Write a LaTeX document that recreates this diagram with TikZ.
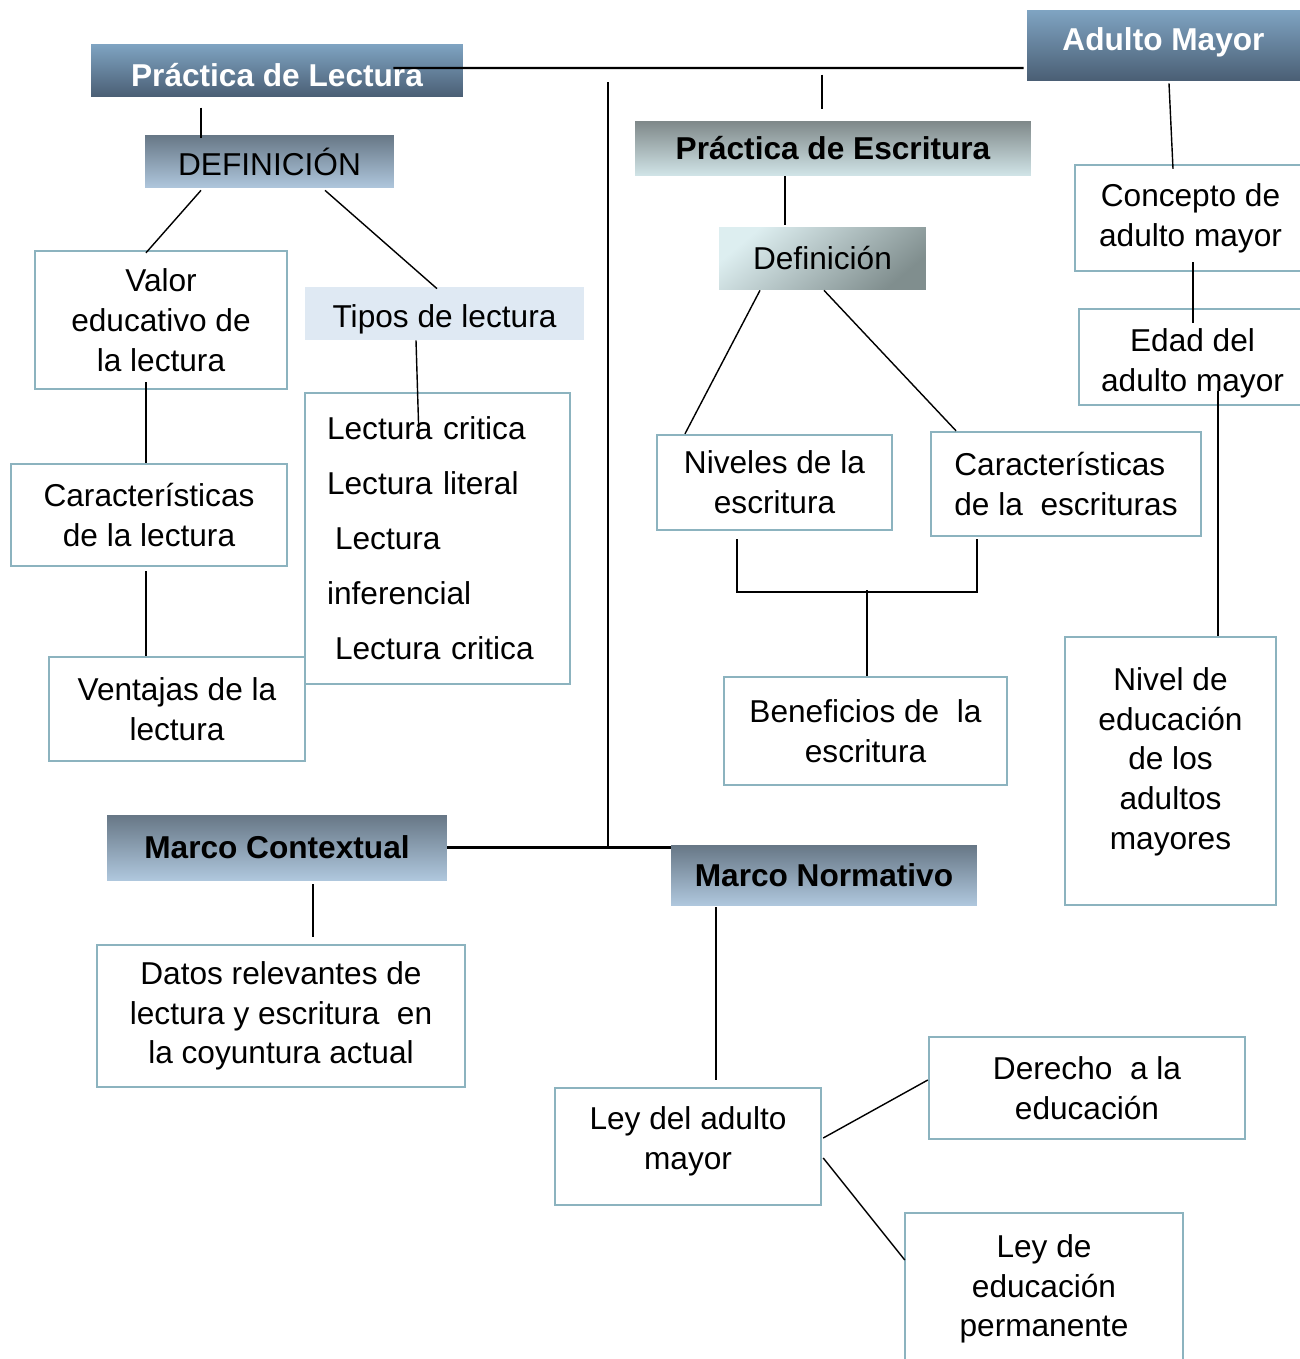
\documentclass[tikz,border=0pt]{standalone}
\usepackage{fontspec}
\setmainfont{Liberation Sans}
\usepackage{tikz}
\usetikzlibrary{positioning}

\definecolor{headtop}{HTML}{7FA4C2}
\definecolor{headbot}{HTML}{4A5E74}
\definecolor{subtop}{HTML}{677786}
\definecolor{subbot}{HTML}{AFC7DD}
\definecolor{escrtop}{HTML}{7F8889}
\definecolor{escrbot}{HTML}{D1E5E8}
\definecolor{defelight}{HTML}{DDEEF0}
\definecolor{defedark}{HTML}{808E8E}
\definecolor{tiposfill}{HTML}{DFE9F3}
\definecolor{boxline}{HTML}{8CB3BF}

\begin{document}
\begin{tikzpicture}[x=0.02cm, y=-0.02cm,
  font=\fontsize{18}{22.6}\selectfont,
  % common options for the white boxes:
  block/.style = {draw=boxline, line width=1.4pt, fill=white, align=center,
              inner sep=0},
  % common options for the shaded titles:
  head/.style = {top color=headtop, bottom color=headbot, text=white,
              font=\fontsize{18}{22.6}\selectfont\bfseries, inner sep=0},
  subhead/.style = {top color=subtop, bottom color=subbot, inner sep=0},
  % connectors
  link/.style = {line width=1.2pt},
  thinlink/.style = {line width=0.8pt}
	]
  \useasboundingbox (0,0) rectangle (1300,1359);

  % titles
  \node[head, minimum width=7.44cm, minimum height=1.06cm, text height=0.63cm] (lect) at (277,70.5) {Práctica de Lectura};
  \node[head, minimum width=5.46cm, minimum height=1.42cm, text depth=0.25cm] (adulto) at (1163.5,45.5) {Adulto Mayor};
  \node[subhead, minimum width=4.98cm, minimum height=1.06cm] (defl) at (269.5,161.5) {DEFINICIÓN};
  \node[top color=escrtop, bottom color=escrbot, inner sep=0, font=\fontsize{18}{22.6}\selectfont\bfseries,
    minimum width=7.92cm, minimum height=1.1cm] (escr) at (833,148.5) {Práctica de Escritura};
  \node[top color=defelight, bottom color=defedark, shading angle=40, inner sep=0,
    minimum width=4.14cm, minimum height=1.26cm] (defe) at (822.5,258.5) {Definición};
  \node[fill=tiposfill, inner sep=0, minimum width=5.58cm, minimum height=1.06cm, text height=0.69cm] (tipos) at (444.5,313.5) {Tipos de lectura};
  \node[subhead, font=\fontsize{18}{22.6}\selectfont\bfseries,
    minimum width=6.8cm, minimum height=1.3cm] (mcont) at (277,847.5) {Marco Contextual};
  \node[subhead, font=\fontsize{18}{22.6}\selectfont\bfseries,
    minimum width=6.12cm, minimum height=1.2cm] (mnorm) at (824,875) {Marco Normativo};

  % lectura
  \node[block, minimum width=5.04cm, minimum height=2.76cm] (valor) at (161,320) {Valor\\educativo de\\la lectura};
  \node[block, minimum width=5.52cm, minimum height=2.04cm] (carl) at (149,515) {Características\\de la lectura};
  \node[block, minimum width=5.12cm, minimum height=2.08cm] (vent) at (177,709) {Ventajas de la\\lectura};
  \node[block, align=left, inner xsep=0.44cm, text width=4.42cm, minimum height=5.82cm,
    font=\fontsize{18}{31.3}\selectfont] (lista) at (437.5,538.5)
    {Lectura critica\\Lectura literal\\\hspace{0.16cm}Lectura\\inferencial\\\hspace{0.16cm}Lectura critica};

  % escritura
  \node[block, minimum width=4.7cm, minimum height=1.9cm] (niv) at (774.5,482.5) {Niveles de la\\escritura};
  \node[block, align=left, minimum width=5.4cm, minimum height=2.08cm] (care) at (1066,484)
    {Características\\de la\ \ escrituras};
  \node[block, minimum width=5.66cm, minimum height=2.16cm] (benef) at (865.5,731) {Beneficios de\ \ la\\escritura};

  % adulto mayor
  \node[block, minimum width=4.62cm, minimum height=2.12cm] (conc) at (1190.5,218) {Concepto de\\adulto mayor};
  \node[block, minimum width=4.54cm, minimum height=1.92cm, text height=1.5cm] (edad) at (1192.5,357) {Edad del\\adulto mayor};
  \node[block, minimum width=4.22cm, minimum height=5.36cm, text depth=0.5cm] (nivel) at (1170.5,771)
    {Nivel de\\educación\\de los\\adultos\\mayores};

  % marcos
  \node[block, minimum width=7.36cm, minimum height=2.84cm] (datos) at (281,1016)
    {Datos relevantes de\\lectura y escritura\ \ en\\la coyuntura actual};
  \node[block, minimum width=5.32cm, minimum height=2.34cm, text depth=0.35cm] (ley) at (688,1146.5) {Ley del adulto\\mayor};
  \node[block, minimum width=6.32cm, minimum height=2.04cm] (der) at (1087,1088) {Derecho\ \ a la\\educación};
  \node[block, minimum width=5.56cm, minimum height=3.04cm] (leyp) at (1044,1289) {Ley de\\educación\\permanente};

  % main lines
  \coordinate (spine) at (608,82);
  \draw[link] ([shift={(-70,-2.5)}]lect.east) -- ([shift={(-3,22.5)}]adulto.west);
  \draw[link] (spine) -- (spine |- mcont.east);
  \draw[link] (mcont.east) -- (mcont.east -| mnorm.west);
  \draw[link] ([shift={(-11,-46)}]escr.north) -- ++(0,34);

  % lectura branch
  \draw[link] ([shift={(56,-27)}]defl.north west) -- ++(0,30);
  \draw[thinlink] ([shift={(-68.5,2)}]defl.south) -- ([shift={(-15,3)}]valor.north);
  \draw[thinlink] ([shift={(55.5,2)}]defl.south) -- ([shift={(-7.5,2)}]tipos.north);
  \draw[thinlink] ([shift={(-28.5,0)}]tipos.south) -- ([shift={(-18.5,47)}]lista.north);
  \draw[link] ([shift={(-15,-8)}]valor.south) -- ([shift={(-3,0)}]carl.north);
  \draw[link] ([shift={(-3,4)}]carl.south) -- ([shift={(-31,0)}]vent.north);

  % escritura branch
  \draw[link] ([shift={(-48,0)}]escr.south) -- ([shift={(-37.5,-2)}]defe.north);
  \draw[thinlink] ([shift={(-62.5,0)}]defe.south) -- ([shift={(-89.5,0)}]niv.north);
  \draw[thinlink] ([shift={(1.5,0)}]defe.south) -- ([shift={(-110,0)}]care.north);
  \draw[link] ([shift={(-37.5,8)}]niv.south) -- ++(0,53) -| ([shift={(-89,2)}]care.south);
  \draw[link] ([shift={(1.5,0)}]benef.north) -- ++(0,-86);

  % adulto mayor branch
  \draw[thinlink] ([shift={(5.5,2)}]adulto.south) -- ([shift={(-17.5,5)}]conc.north);
  \draw[link] ([shift={(2.5,-10)}]conc.south) -- ([shift={(0.5,15)}]edad.north);
  \draw[link] ([shift={(25.5,-15)}]edad.south) -- ([shift={(47.5,0)}]nivel.north);

  % marcos
  \draw[thinlink] ([shift={(36,4)}]mcont.south) -- ([shift={(32,-7)}]datos.north);
  \draw[link] ([shift={(-108,2)}]mnorm.south) -- ([shift={(28,-7)}]ley.north);
  \draw[thinlink] ([shift={(1,-8.5)}]ley.east) -- ([shift={(0,-8)}]der.west);
  \draw[thinlink] ([shift={(1,11.5)}]ley.east) -- ([shift={(1,-29)}]leyp.west);
\end{tikzpicture}
\end{document}
